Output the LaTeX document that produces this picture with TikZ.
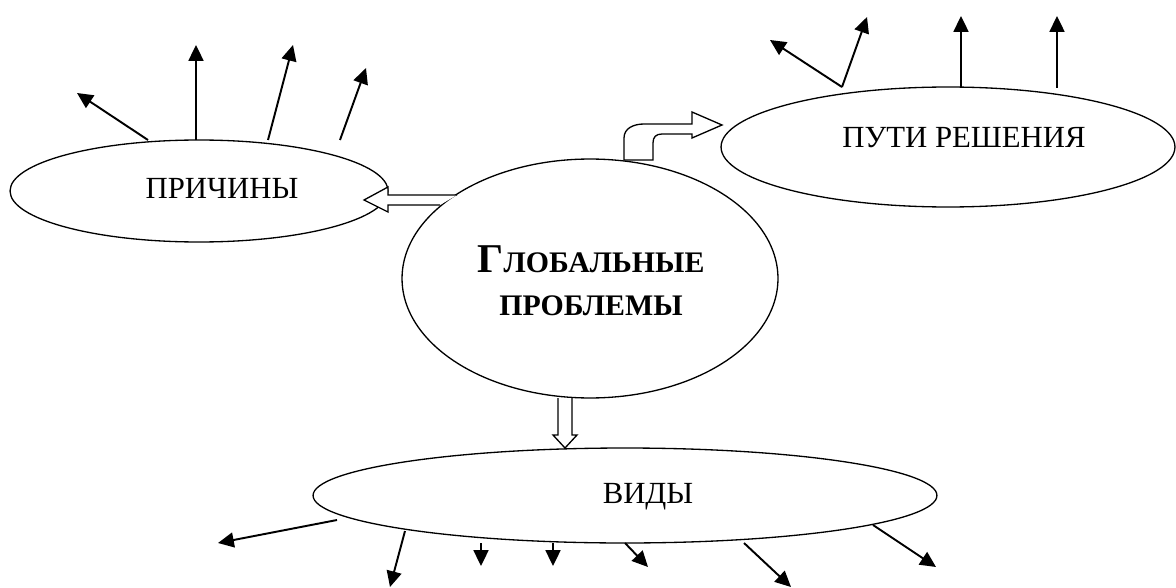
\documentclass[tikz,border=0pt]{standalone}
\usepackage{fontspec}
\setmainfont{Liberation Serif}
\usetikzlibrary{shapes.geometric,arrows.meta}

\tikzset{oval/.style = {ellipse, draw, line width=0.75pt, inner sep=0pt},
         rayon/.style = {line width=1.1pt, -{Triangle[length=9pt,width=8.5pt]}},
         creux/.style = {draw, fill=white, line width=0.75pt, line join=miter},
         titre/.style = {anchor=base, inner sep=0pt, font=\fontsize{17.5}{20}\selectfont},
         gras/.style = {titre, font=\bfseries\fontsize{17}{20}\selectfont}
        }

\begin{document}
\begin{tikzpicture}[x=0.02cm, y=-0.02cm]
  \useasboundingbox (0,0) rectangle (1176,588);
  \node[oval, minimum width=7.56cm, minimum height=2.04cm] (prichiny) at (199,191) {};
  \node[oval, minimum width=9.08cm, minimum height=2.4cm] (puti) at (948,147) {};
  \node[oval, minimum width=7.52cm, minimum height=4.78cm] (global) at (590,278.5) {};
  \node[oval, minimum width=12.48cm, minimum height=1.9cm] (vidy) at (625,495.5) {};
  \node[titre] (tprichiny) at (222,198) {ПРИЧИНЫ};
  \node[titre] (tputi) at (964,148) {ПУТИ РЕШЕНИЯ};
  \node[titre] (tvidy) at (648,503) {ВИДЫ};
  \node[gras] (tglobal) at (591,272) {{\fontsize{23.3}{26}\selectfont Г}ЛОБАЛЬНЫЕ};
  \node[gras] (tproblemy) at (591,315) {ПРОБЛЕМЫ};
  % hollow arrows
  \draw[creux] (457,195) -- (388,195) -- (388,187) -- (364,200) -- (388,212) -- (388,205) -- (440,205);
  \draw[creux] (558,398) -- (558,435) -- (553,435) -- (565,448) -- (577,435) -- (572,435) -- (572,398);
  \draw[creux] (624,160) -- (624,138) .. controls (624,128) and (634,124) .. (644,124) -- (692,124)
    -- (692,112) -- (722,125) -- (692,138) -- (692,134) -- (662,134)
    .. controls (656,134) and (653,137) .. (653,143) -- (653,160) -- cycle;
  % rays
  \foreach \n/\d/\f in {a/{148,140}/{77,93}, b/{196,140}/{196,45}, c/{268,140}/{293,45}, d/{340,140}/{366,68},
                        e/{842,87}/{770,40}, f/{842,87}/{867,17}, g/{961,87}/{961,16}, h/{1057,88}/{1057,16},
                        i/{337,520}/{218,543}, j/{405,531}/{390,587}, k/{481,543}/{481,566}, l/{553,543}/{553,566},
                        m/{625,543}/{648,567}, n/{744,543}/{791,587}, o/{873,525}/{936,567}}
  {
    \coordinate (\n-d) at (\d);
    \coordinate (\n-f) at (\f);
    \draw[rayon] (\n-d) -- (\n-f);
  }
\end{tikzpicture}
\end{document}
